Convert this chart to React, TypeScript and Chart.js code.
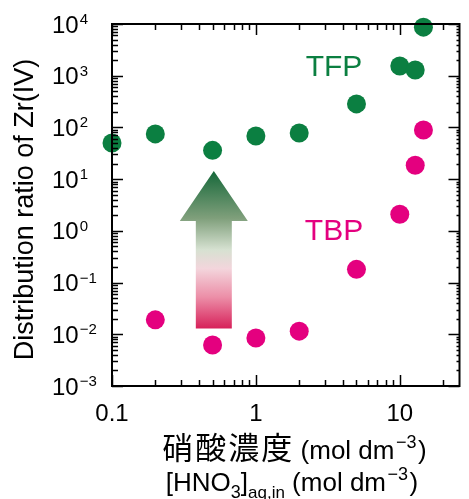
import React, { useEffect, useRef } from "react";
import { Chart, registerables } from "chart.js";

Chart.register(...registerables);

// ---- data ----
const tfpX = [0.1, 0.2, 0.5, 1, 2, 5, 10, 12.8, 14.6];
const tfpY = [50, 75, 36, 68, 78, 285, 1540, 1290, 8700];
const tbpX = [0.2, 0.5, 1, 2, 5, 10, 12.8, 14.6];
const tbpY = [0.019, 0.0062, 0.0085, 0.0115, 0.18, 2.1, 18.6, 89];

const xTickValues = [0.1, 1, 10];
const xTickLabels = ["0.1", "1", "10"];
const yTickExponents = [4, 3, 2, 1, 0, -1, -2, -3];

const seriesNames = ["TFP", "TBP"];
const labelX = 3.49;
const labelY = [1400, 0.95];

// arrow annotation in data space
const arrowX = 0.51;
const arrowTipY = 14.4;
const arrowHeadBaseY = 1.55;
const arrowTailY = 0.013;

const GREEN = "#0b7f41";
const PINK = "#e4007f";
const LATIN = "'Liberation Sans', Arial, sans-serif";
const CJK = "'Noto Sans CJK JP', sans-serif";

type Run = { t: string; size: number; font?: string; dy?: number; pad?: number; adv?: number };

function runW(ctx: CanvasRenderingContext2D, r: Run) {
  ctx.font = `${r.size}px ${r.font || LATIN}`;
  if (r.adv) return r.adv * Array.from(r.t).length;
  return ctx.measureText(r.t).width + 2 * (r.pad || 0);
}

function drawRuns(ctx: CanvasRenderingContext2D, runs: Run[], cx: number, baseline: number) {
  let total = 0;
  for (const r of runs) total += runW(ctx, r);
  let x = cx - total / 2;
  ctx.textAlign = "left";
  ctx.textBaseline = "alphabetic";
  for (const r of runs) {
    ctx.font = `${r.size}px ${r.font || LATIN}`;
    if (r.adv) {
      for (const ch of Array.from(r.t)) {
        const cw = ctx.measureText(ch).width;
        ctx.fillText(ch, x + (r.adv - cw) / 2, baseline + (r.dy || 0));
        x += r.adv;
      }
    } else {
      x += r.pad || 0;
      ctx.fillText(r.t, x, baseline + (r.dy || 0));
      x += ctx.measureText(r.t).width + (r.pad || 0);
    }
  }
}

const decorPlugin = {
  id: "decor",
  beforeDatasetsDraw(chart: any) {
    const ctx: CanvasRenderingContext2D = chart.ctx;
    const xs = chart.scales.x;
    const ys = chart.scales.y;
    const cx = xs.getPixelForValue(arrowX);
    const tip = ys.getPixelForValue(arrowTipY);
    const hb = ys.getPixelForValue(arrowHeadBaseY);
    const tail = ys.getPixelForValue(arrowTailY);
    const g = ctx.createLinearGradient(0, tip, 0, tail);
    g.addColorStop(0, "#16683a");
    g.addColorStop(0.3, "#7f9f7b");
    g.addColorStop(0.5, "#d6e1d1");
    g.addColorStop(0.62, "#f3d5dc");
    g.addColorStop(0.8, "#ec8fa8");
    g.addColorStop(1, "#d7215a");
    ctx.save();
    ctx.fillStyle = g;
    ctx.beginPath();
    ctx.moveTo(cx, tip);
    ctx.lineTo(cx + 34, hb);
    ctx.lineTo(cx + 18, hb);
    ctx.lineTo(cx + 18, tail);
    ctx.lineTo(cx - 18, tail);
    ctx.lineTo(cx - 18, hb);
    ctx.lineTo(cx - 34, hb);
    ctx.closePath();
    ctx.fill();
    ctx.restore();
  },
  afterDraw(chart: any) {
    const ctx: CanvasRenderingContext2D = chart.ctx;
    const xs = chart.scales.x;
    const ys = chart.scales.y;
    const a = chart.chartArea;
    ctx.save();
    ctx.strokeStyle = "#000";
    ctx.fillStyle = "#000";
    ctx.lineWidth = 2;
    ctx.strokeRect(a.left, a.top, a.right - a.left, a.bottom - a.top);
    const xMin = xs.min, xMax = xs.max;
    ctx.lineWidth = 1.5;
    for (let d = -1; d <= 2; d++) {
      for (let m = 1; m <= 9; m++) {
        const v = m * Math.pow(10, d);
        if (v < xMin * 0.999 || v > xMax) continue;
        const px = Math.round(xs.getPixelForValue(v)) + 0.5;
        const len = m === 1 ? 11 : 6;
        ctx.beginPath();
        ctx.moveTo(px, a.bottom);
        ctx.lineTo(px, a.bottom - len);
        ctx.moveTo(px, a.top);
        ctx.lineTo(px, a.top + len);
        ctx.stroke();
      }
    }
    for (let d = -3; d <= 4; d++) {
      for (let m = 1; m <= 9; m++) {
        const v = m * Math.pow(10, d);
        if (v < ys.min * 0.999 || v > ys.max * 1.001) continue;
        const py = Math.round(ys.getPixelForValue(v)) + 0.5;
        const len = m === 1 ? 11 : 6;
        ctx.beginPath();
        ctx.moveTo(a.left, py);
        ctx.lineTo(a.left + len, py);
        ctx.moveTo(a.right, py);
        ctx.lineTo(a.right - (m === 1 ? 11 : 3), py);
        ctx.stroke();
      }
    }
    ctx.fillStyle = "#000";
    ctx.font = `24px ${LATIN}`;
    ctx.textAlign = "center";
    ctx.textBaseline = "alphabetic";
    xTickValues.forEach((v, i) => {
      ctx.fillText(xTickLabels[i], xs.getPixelForValue(v), a.bottom + 35);
    });
    yTickExponents.forEach((e) => {
      const py = ys.getPixelForValue(Math.pow(10, e));
      ctx.textAlign = "left";
      ctx.font = `24px ${LATIN}`;
      ctx.fillText("10", 52, py + 8.5);
      const w = ctx.measureText("10").width;
      ctx.font = `15px ${LATIN}`;
      const s = e < 0 ? "\u2212" + String(-e) : String(e);
      ctx.fillText(s, 52 + w + 1, py + 0);
    });
    ctx.textAlign = "center";
    ctx.textBaseline = "middle";
    ctx.font = `30px ${LATIN}`;
    ctx.fillStyle = GREEN;
    ctx.fillText(seriesNames[0], xs.getPixelForValue(labelX), ys.getPixelForValue(labelY[0]));
    ctx.fillStyle = PINK;
    ctx.fillText(seriesNames[1], xs.getPixelForValue(labelX), ys.getPixelForValue(labelY[1]));
    ctx.fillStyle = "#000";
    drawRuns(
      ctx,
      [
        { t: "硝酸濃度", size: 31, font: CJK, adv: 33 },
        { t: " (mol dm", size: 26 },
        { t: "\u22123", size: 18, dy: -11, pad: 1.5 },
        { t: ")", size: 26 },
      ],
      294,
      459
    );
    drawRuns(
      ctx,
      [
        { t: "[HNO", size: 26 },
        { t: "3", size: 18, dy: 7 },
        { t: "]", size: 26 },
        { t: "aq,in", size: 17, dy: 7 },
        { t: " (mol dm", size: 26 },
        { t: "\u22123", size: 18, dy: -11, pad: 1.5 },
        { t: ")", size: 26 },
      ],
      292,
      491
    );
    ctx.save();
    ctx.translate(33, 209.5);
    ctx.rotate(-Math.PI / 2);
    ctx.textAlign = "center";
    ctx.textBaseline = "alphabetic";
    ctx.font = `27px ${LATIN}`;
    ctx.fillText("Distribution ratio of Zr(IV)", 0, 0);
    ctx.restore();
    ctx.restore();
  },
};

export default function App() {
  const ref = useRef<HTMLCanvasElement>(null);
  useEffect(() => {
    document.body.style.margin = "0";
    const canvas = ref.current!;
    const chart = new Chart(canvas, {
      type: "scatter",
      data: {
        datasets: [
          {
            label: seriesNames[0],
            data: tfpX.map((x, i) => ({ x, y: tfpY[i] })),
            backgroundColor: GREEN,
            borderWidth: 0,
            pointRadius: 9.5,
            clip: false as any,
          },
          {
            label: seriesNames[1],
            data: tbpX.map((x, i) => ({ x, y: tbpY[i] })),
            backgroundColor: PINK,
            borderWidth: 0,
            pointRadius: 9.5,
            clip: false as any,
          },
        ],
      },
      options: {
        animation: false,
        responsive: false,
        events: [],
        layout: { padding: { left: 112, top: 24, right: 3, bottom: 113 } },
        plugins: { legend: { display: false }, tooltip: { enabled: false } },
        scales: {
          x: { type: "logarithmic", min: 0.1, max: 26, display: false },
          y: { type: "logarithmic", min: 0.001, max: 10000, display: false },
        },
      },
      plugins: [decorPlugin],
    });
    return () => chart.destroy();
  }, []);
  return (
    <div style={{ position: "absolute", left: 0, top: 0, width: 469, height: 499 }}>
      <canvas ref={ref} width={469} height={499} style={{ width: 469, height: 499 }} />
    </div>
  );
}
